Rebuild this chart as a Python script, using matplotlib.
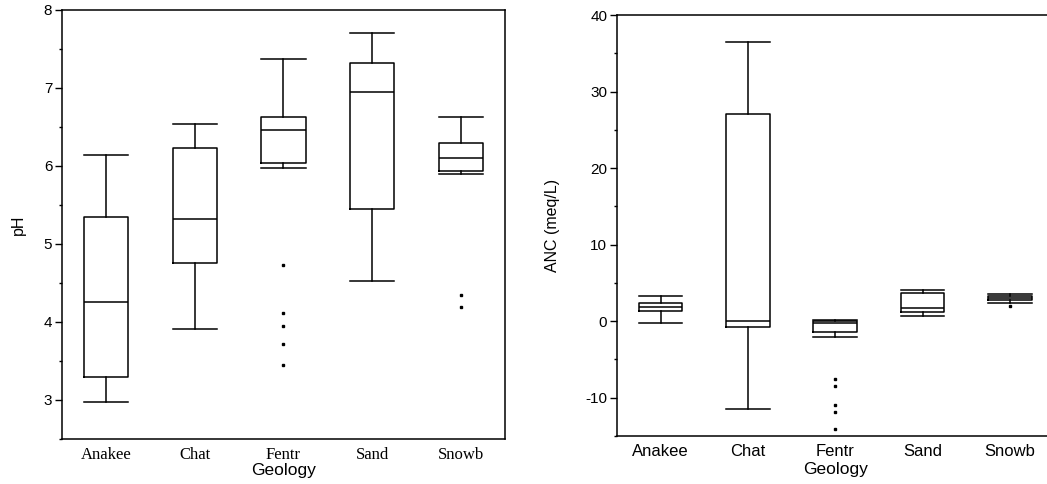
"""
Boxplots of pH and ANC by geology
"""
import numpy as np
import matplotlib
matplotlib.use('Agg')
import matplotlib.pyplot as plt
from matplotlib.ticker import MultipleLocator

plt.rcParams['axes.unicode_minus'] = False

geology = ['Anakee', 'Chat', 'Fentr', 'Sand', 'Snowb']

# pH: lower whisker, Q1, median, Q3, upper whisker, outliers
ph_low = [2.97, 3.91, 5.98, 4.52, 5.90]
ph_q1 = [3.29, 4.76, 6.04, 5.45, 5.94]
ph_med = [4.25, 5.32, 6.46, 6.95, 6.10]
ph_q3 = [5.34, 6.23, 6.63, 7.32, 6.30]
ph_high = [6.14, 6.54, 7.37, 7.70, 6.63]
ph_out = [[], [], [4.73, 4.11, 3.95, 3.72, 3.45], [], [4.35, 4.19]]

# ANC (meq/L)
anc_low = [-0.22, -11.44, -2.02, 0.72, 2.33]
anc_q1 = [1.30, -0.80, -1.37, 1.24, 2.76]
anc_med = [1.89, 0.0, -0.28, 1.68, 2.98]
anc_q3 = [2.42, 27.1, 0.06, 3.72, 3.30]
anc_high = [3.27, 36.5, 0.15, 4.07, 3.55]
anc_out = [[], [], [-7.5, -8.5, -11.0, -11.9, -14.1], [], [1.98]]


def make_stats(low, q1, med, q3, high, out):
    """
    Builds the list of dicts that ax.bxp wants
    """
    stats = []
    for i in range(len(low)):
        stats.append({'whislo': low[i], 'q1': q1[i], 'med': med[i],
                      'q3': q3[i], 'whishi': high[i],
                      'fliers': np.array(out[i])})
    return stats


def draw_box(ax, stats):
    line = dict(color='black', linewidth=1.1)
    ax.bxp(stats, positions=np.arange(1, len(stats) + 1), widths=0.5,
           boxprops=line, whiskerprops=line, capprops=line,
           medianprops=line, capwidths=0.5,
           flierprops=dict(marker='s', markersize=1.6,
                           markerfacecolor='black',
                           markeredgecolor='black', linestyle='none'))
    ax.set_xlim(0.5, 5.5)
    ax.tick_params(axis='x', length=0, pad=6)
    ax.tick_params(axis='y', which='major', length=5, width=1.0,
                   direction='out', labelsize=11, pad=2)
    ax.tick_params(axis='y', which='minor', length=2.2, width=1.0,
                   direction='out')
    for sp in ax.spines.values():
        sp.set_linewidth(1.1)


fig = plt.figure(figsize=(10.47, 4.84), dpi=100)

# Left panel, pH
ax1 = fig.add_axes([0.0592, 0.0930, 0.4231, 0.8864])
draw_box(ax1, make_stats(ph_low, ph_q1, ph_med, ph_q3, ph_high, ph_out))
ax1.set_ylim(2.5, 8)
ax1.yaxis.set_major_locator(MultipleLocator(1))
ax1.yaxis.set_minor_locator(MultipleLocator(0.5))
ax1.set_xticklabels(geology, family='Liberation Serif', fontsize=12)
ax1.set_ylabel('pH', fontsize=11.5)
ax1.yaxis.set_label_coords(-0.082, 0.5)
ax1.set_xlabel('Geology', fontsize=12.5)
ax1.xaxis.set_label_coords(0.5, -0.055)

# Right panel, ANC (runs past the right edge like the original)
ax2 = fig.add_axes([0.5893, 0.0992, 0.4169, 0.8698])
draw_box(ax2, make_stats(anc_low, anc_q1, anc_med, anc_q3, anc_high, anc_out))
ax2.spines['right'].set_visible(False)
ax2.set_ylim(-15, 40)
ax2.yaxis.set_major_locator(MultipleLocator(10))
ax2.yaxis.set_minor_locator(MultipleLocator(5))
ax2.set_xticklabels(geology, fontsize=12)
ax2.set_ylabel('ANC (meq/L)', fontsize=11.5)
ax2.yaxis.set_label_coords(-0.13, 0.5)
ax2.set_xlabel('Geology', fontsize=12.5)
ax2.xaxis.set_label_coords(0.5, -0.062)

for t in ax1.get_yticklabels() + ax2.get_yticklabels() + ax2.get_xticklabels():
    t.set_family('Liberation Sans')
for a in (ax1, ax2):
    a.xaxis.label.set_family('Liberation Sans')
    a.yaxis.label.set_family('Liberation Sans')

fig.savefig('out.png', dpi=100)
